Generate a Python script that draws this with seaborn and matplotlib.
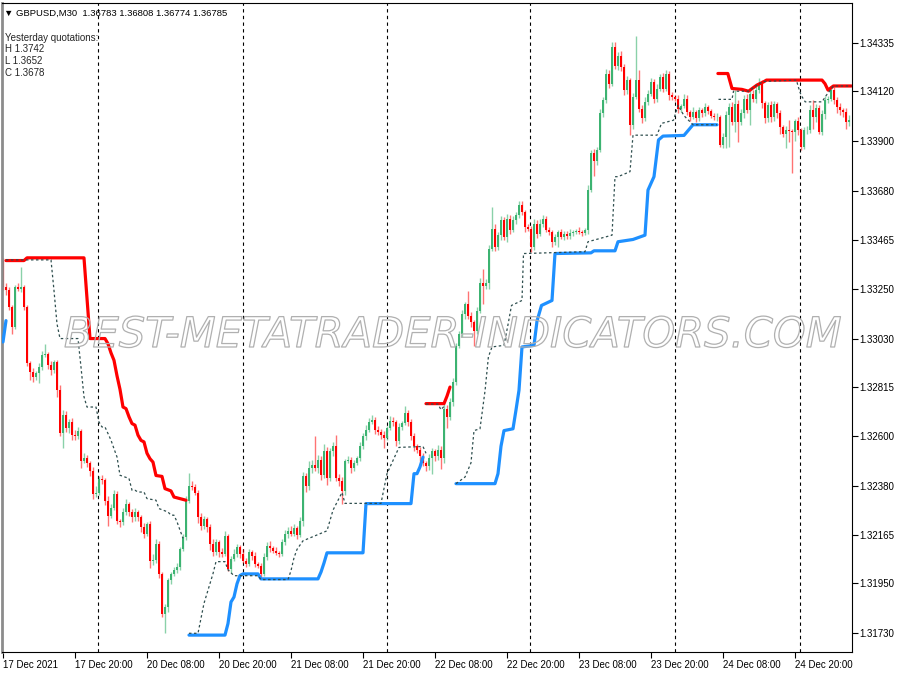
import numpy as np
import matplotlib
matplotlib.use("Agg")
import matplotlib.pyplot as plt
import matplotlib.patheffects as pe
import seaborn as sns

# prices are kept as pips above 1.30000 (GBPUSD, M30 candles)
BASE = 1.30000
first_open = 337.4

closes = [
    # 17 Dec
    325.6, 324.2, 316.9, 308.1, 325.6, 324.9, 325.6, 316.9, 292.0, 288.4,
    286.2, 287.7, 290.5, 295.7, 296.2, 291.2, 289.1, 292.7, 280.3, 261.3,
    269.4, 263.5, 266.4, 260.6, 259.9, 262.1, 248.9, 250.5, 248.2, 244.5,
    234.3, 235.0, 240.9, 240.5, 231.4, 224.8, 228.4, 234.3, 222.6, 221.9,
    226.3, 229.9, 226.3, 224.1, 226.3, 224.1, 219.7, 216.7, 221.1, 205.0,
    205.5, 212.4, 199.2, 181.6, 184.6, 196.3, 199.2, 200.7, 202.1, 210.2,
    215.3, 231.4, 238.0, 237.5,
    235.0, 224.1, 220.4, 223.3, 219.7, 212.4, 208.7, 213.1, 208.7, 208.0,
    216.0, 201.4, 205.8, 208.0, 210.9, 208.0, 205.0, 203.6, 208.7, 207.2,
    203.6, 202.9, 199.2, 206.5, 211.6, 210.5, 209.5, 208.5, 208.0, 213.1,
    216.7, 218.2, 217.0, 219.5, 216.5, 222.5,
    # 21 Dec - 22 Dec
    242.3, 237.9, 245.9, 247.4, 245.9, 249.6, 243.0, 253.3, 241.6, 253.3,
    255.5, 241.6, 240.1, 235.7, 248.9, 249.6, 245.9, 248.1, 250.3, 255.5,
    259.8, 262.8, 266.4, 267.2, 262.8, 262.0, 260.6, 259.1, 263.5, 266.7,
    266.1, 257.7, 264.2, 265.7, 270.1, 266.4, 259.8, 255.5, 254.0, 251.1,
    248.1, 246.7, 250.3, 253.3, 251.1, 254.0, 250.3,
    272.1, 268.5, 275.1, 283.8, 299.9, 305.0, 313.8, 318.2, 313.1, 310.2,
    306.5, 315.3, 327.7, 326.2, 327.7, 342.4,
    351.5, 343.4, 348.6, 355.1, 347.8, 355.9, 350.8, 355.1, 357.3, 361.7,
    358.8, 352.2, 351.5, 343.4, 353.7, 349.3, 353.7, 355.9, 350.8, 350.0,
    345.6, 347.8, 350.0, 347.8, 349.3, 348.1, 349.6, 350.0, 350.5, 350.0,
    349.6, 350.8,
    # 23 Dec - 24 Dec
    368.6, 384.7, 381.1, 386.2, 402.3, 408.1, 419.8, 415.4, 431.5, 423.4,
    427.8, 422.7, 412.5, 416.9, 397.1, 409.6, 416.9, 404.4, 400.1, 407.4,
    411.0, 416.1, 408.8, 413.2, 418.3, 413.2, 419.8, 410.3, 409.6, 408.8,
    404.4, 405.5, 408.8, 403.0, 400.8, 403.0, 400.1, 403.7, 402.3, 405.2,
    403.4, 401.1, 400.5, 400.8,
    388.4, 392.0, 401.5, 405.2, 398.6, 406.6, 398.6, 402.3, 408.8, 404.0,
    411.0, 408.8, 412.8, 415.4, 406.9, 400.1, 405.9, 400.5, 406.3, 402.3,
    396.4, 393.2, 395.2, 394.6, 394.2, 399.0, 394.9, 387.6, 394.9, 395.2,
    404.0, 400.5, 404.9, 394.2, 402.0, 408.4, 408.8, 412.5, 408.4, 405.2,
    403.7, 403.0, 398.6, 399.6,
]

upper_wick = [
    1, 2, 1.5, 1, 1, 2, 8.8, 1, 1, 1, 1.5, 1, 1.5, 2, 4.5, 1, 2, 1, 1, 2,
    2, 1.5, 1, 1.5, 2, 2, 1, 2, 1, 1, 2, 3, 1.5, 2, 1, 2, 1.5, 2, 1.5, 1,
    2, 2.5, 1, 1.5, 2, 1, 1, 2, 1, 1.5, 2.5, 2, 1.5, 1, 1.5, 1, 1, 1.5, 2, 1,
    1.5, 2, 5.8, 2,
    1.5, 1, 2, 1.5, 1, 1.5, 2, 1.5, 1, 2, 2.2, 1, 1.5, 2, 1.5, 1, 2, 1,
    1.5, 1, 1.5, 1, 1, 2, 1.5, 2, 1, 1.5, 1, 1.5, 2, 1.5, 2, 1.5, 1, 2,
    2, 1.5, 3, 2, 12.4, 2, 1.5, 3, 2, 1.5, 2, 5, 1.5, 2, 1, 1.5, 1, 1.5, 1, 2,
    1.5, 2, 1.5, 2, 1, 1.5, 1, 1.5, 1, 2, 1.5, 1, 1.5, 1, 3, 1.5, 1, 1.5, 1, 1,
    1.5, 1, 2, 1.5, 1, 2, 1.5,
    2, 1.5, 1.5, 2, 1, 1.5, 2, 1, 5.8, 1.5, 1, 1.5, 2, 5.8, 1.5, 2,
    9.5, 2, 1.5, 2, 1.5, 2, 1.5, 2, 1.5, 2, 2, 1, 1.5, 1, 2, 1.5, 2, 1.5, 1, 1.5,
    1, 1.5, 1, 1.5, 1, 1, 1.5, 1, 1, 1.5, 1, 1,
    2, 1.5, 2, 1.5, 2, 1.5, 2, 1.5, 2.2, 2.2, 1.5, 2, 1.5, 2, 1, 1.5, 19.7, 4.4, 1.5, 2,
    1.5, 2, 1.5, 2, 1.5, 2, 1.5, 1, 1.5, 1, 1.5, 1, 2, 1.5, 1, 2, 1, 1.5, 1, 1.5,
    1, 1, 1.5, 1.5,
    1, 1.5, 2, 1.5, 2, 5.9, 1.5, 2, 1.5, 2, 2, 1.5, 2, 2.5, 1.5, 1, 1.5, 2, 1.5, 1,
    1.5, 1, 1.5, 4, 1, 1, 1.5, 1, 1.5, 1.5, 2, 4, 1.5, 1, 2, 1.5, 1, 2, 1.5, 1,
    1.5, 1, 1.5, 2,
]

lower_wick = [
    1, 2, 1.5, 3, 1, 1, 1.5, 1.5, 1, 3.7, 2.5, 1.5, 4.5, 1.5, 1, 1.5, 2, 1.5, 3, 1.5,
    6.5, 1.5, 2, 2.5, 1.5, 1, 3, 1, 2, 2, 2, 1, 1, 1.5, 2, 4.4, 1, 1, 1.5, 2,
    1, 1, 1.5, 2, 1.5, 1.5, 2, 1.5, 1, 3, 2, 1.5, 2, 1.5, 8.6, 2, 1.5, 1, 1, 1,
    1, 1, 1, 1.5,
    1, 2.5, 2, 1.5, 2, 2.5, 1.5, 1, 2, 1.5, 1, 1, 2, 1, 1.5, 2, 1, 1.5,
    1, 2, 1.5, 1, 1.5, 1, 1, 1.5, 1, 1, 1.5, 1, 1, 1.5, 1, 1, 2, 1,
    2, 2.5, 1.5, 2, 1.5, 2, 2.5, 1.5, 3, 1.5, 2, 1.5, 2, 5.8, 1.5, 1, 2, 1.5, 1, 1.5,
    1, 1.5, 1, 1, 2, 1.5, 2, 4.4, 1, 1, 1.5, 2, 1, 1.5, 1, 2, 1.5, 2, 1.5, 2,
    1.5, 2, 1.5, 7, 2, 1.5, 5,
    2, 5, 1.5, 2, 1.5, 1, 1.5, 2, 1.5, 2, 6.6, 1.5, 1, 8, 1.5, 3,
    1, 2, 1.5, 2, 1.5, 2, 1.5, 1, 1.5, 1, 1.5, 2, 1, 2.1, 1.5, 2, 1, 1.5, 1, 1.5,
    2, 1.5, 4.3, 1, 1.5, 1, 1, 1.5, 1, 1, 1.5, 1,
    1.5, 1, 6.6, 1.5, 1, 1.5, 1, 2, 1, 1.5, 2, 1.5, 2, 1.5, 4.4, 1.5, 1, 1.5, 2, 1,
    1.5, 1, 2, 1.5, 1, 1.5, 1, 2, 1.5, 1, 2, 1.5, 1, 1.5, 2, 1, 1.5, 1, 1.5, 1,
    1.5, 1, 1, 1.5,
    1, 1.5, 5, 14, 1.5, 4.4, 8.8, 1.5, 2, 1.5, 7, 1.5, 2, 1.5, 2, 2, 1.5, 2, 1.5, 2,
    3, 1.5, 6.3, 5, 18.3, 4, 2, 1.5, 1, 1.5, 1.5, 5, 2, 1, 1.5, 2, 1.5, 1, 2, 2.5,
    2, 2.5, 3, 2,
]

# indicator lines: (bar index, pips) vertices
red_1_x = [1, 7, 8, 27, 28, 29, 34, 35, 36, 37, 38, 39, 40, 41, 42, 43, 44, 45, 46, 47,
           48, 49, 50, 51, 53, 54, 56, 57, 61]
red_1_y = [337.4, 337.4, 338.6, 338.6, 320.8, 303.0, 303.0, 300.7, 296.7, 293.4, 286.6,
           280.6, 272.8, 272.1, 268.5, 265.5, 264.8, 260.4, 258.1, 257.4, 252.4, 250.0,
           248.5, 242.6, 242.2, 236.8, 235.8, 233.1, 231.7]
red_2_x = [141, 147, 148, 149]
red_2_y = [274.3, 274.3, 277.6, 281.6]
red_3_x = [238.3, 241.6, 243, 246.3, 248.5, 251.3, 253.5, 254.5, 273, 274, 275, 276.8, 282.8]
red_3_y = [419.9, 419.9, 413.3, 412.9, 412.1, 414.8, 416.2, 417.0, 417.0, 415.4, 412.6,
           414.4, 414.4]

blue_1_x = [0, 1]
blue_1_y = [301.5, 310.9]
blue_2_x = [62, 74, 75, 76, 77, 78, 79, 80, 85, 86, 105, 106, 107, 108, 120, 121, 136,
            137, 138, 139, 140]
blue_2_y = [172.2, 172.2, 177.3, 186.8, 189, 194.8, 198.5, 199.2, 199.2, 197, 197, 200,
            204, 208.5, 208.5, 230.2, 230.2, 243.4, 243.4, 246.4, 250.7]
blue_3_x = [151, 164, 165, 166, 167, 170, 171, 172, 173, 177, 178, 179.5, 183, 184, 196,
            197, 204, 205, 210, 214, 215, 217, 218.5, 220, 227, 230, 238]
blue_3_y = [239.0, 239.0, 243.4, 255.5, 262.4, 263.2, 271.5, 280.2, 299.3, 300.0, 310.7,
            317.6, 319.8, 340.5, 340.8, 341.7, 341.7, 345.7, 346.7, 348.6, 368.5, 374.4,
            390.6, 392.3, 392.6, 397.3, 397.3]

mid_1_x = [1, 16, 17, 18, 19, 25, 26, 27, 28, 31, 32, 33, 34, 35, 36, 37, 38, 39, 42,
           43, 44, 45, 47, 48, 51, 52, 55, 56, 57, 58, 59, 60]
mid_1_y = [337.7, 337.7, 324.2, 309.5, 303.0, 303.0, 290.4, 277.3, 272.8, 272.8, 266.2,
           264.0, 264.0, 261.1, 258.2, 254.4, 250.8, 242.7, 241.3, 236.1, 236.1, 235.3,
           235.3, 232.4, 231.7, 228.0, 226.5, 225.1, 225.1, 222.2, 218.5, 214.9]
mid_2_x = [62, 65, 67, 70, 71, 74, 75, 77, 85, 86, 95, 96, 97, 98, 100, 108, 110, 113,
           114, 126, 128, 132, 140, 141]
mid_2_y = [173, 173, 186.2, 199.3, 204.6, 204.6, 201, 198.4, 198.4, 196.7, 196.7, 200.6,
           206.3, 210, 213.8, 218.2, 227.3, 235.1, 230.3, 230.3, 243.4, 255.0, 255.4, 252.4]
mid_3_x = [141, 145, 146, 147]
mid_3_y = [274.1, 274.1, 271.6, 273.1]
mid_4_x = [151, 154, 156, 157, 159, 160.7, 161.8, 163, 167, 168.4, 169.5, 173, 173.5,
           194, 195, 203, 204, 205, 209, 210, 218, 219.5, 223.5, 225, 227, 230, 238]
mid_4_y = [239.0, 241.9, 248.2, 262.4, 263.2, 280.2, 294.9, 299.3, 300.0, 309.6, 317.6,
           319.8, 340.5, 341.3, 345.7, 348.6, 374.4, 374.4, 376.6, 392.7, 392.7, 397.9,
           399.3, 405.9, 401.3, 397.3, 397.3]
mid_5_x = [238.5, 243, 243.5, 248.5, 251.3, 253.5, 264.5, 265, 266, 267.4, 273, 274.5,
           276.8, 282.8]
mid_5_y = [408.5, 408.5, 412.1, 412.1, 414.8, 416.4, 417.0, 414.4, 410.4, 407.4, 407.4,
           410.4, 414.4, 414.4]

tick_bars = [0, 24, 48, 72, 96, 120, 144, 168, 192, 216, 240, 264]
tick_labels = ["17 Dec 2021", "17 Dec 20:00", "20 Dec 08:00", "20 Dec 20:00",
               "21 Dec 08:00", "21 Dec 20:00", "22 Dec 08:00", "22 Dec 20:00",
               "23 Dec 08:00", "23 Dec 20:00", "24 Dec 08:00", "24 Dec 20:00"]
separator_bars = [31.7, 80, 128, 175.7, 224, 265.7]
price_ticks = [1.34335, 1.34120, 1.33900, 1.33680, 1.33465, 1.33250, 1.33030,
               1.32815, 1.32600, 1.32380, 1.32165, 1.31950, 1.31730]


def px(p):
    return BASE + np.asarray(p, dtype=float) / 10000


sns.set_style("ticks")
plt.rcParams['font.family'] = ['Liberation Sans', 'DejaVu Sans']

fig = plt.figure(figsize=(9, 6.75), dpi=100)
ax = fig.add_axes([2 / 900, 23 / 675, 850 / 900, 649 / 675])

# ---------------- candles ----------------
c = np.array(closes)
o = np.r_[first_open, c[:-1]]
hi = np.maximum(o, c) + np.array(upper_wick)
lo = np.minimum(o, c) - np.array(lower_wick)
x = np.arange(len(c))
up = (c - o) > 0.25
dn = (o - c) > 0.25
flat = ~(up | dn)

GREEN = '#3cb371'
RED = '#ff0000'
ax.vlines(x[up], px(lo[up]), px(hi[up]), color=GREEN, alpha=0.6, lw=1.0, zorder=2)
ax.vlines(x[dn], px(lo[dn]), px(hi[dn]), color=RED, alpha=0.55, lw=1.0, zorder=2)
ax.vlines(x[flat], px(lo[flat]), px(hi[flat]), color='black', lw=1.0, zorder=2)
ax.bar(x[up], (c - o)[up] / 10000, bottom=px(o[up]), width=0.68, color=GREEN,
       linewidth=0, zorder=2)
ax.bar(x[dn], (o - c)[dn] / 10000, bottom=px(c[dn]), width=0.68, color=RED,
       linewidth=0, zorder=2)
ax.hlines(px(c[flat]), x[flat] - 0.5, x[flat] + 0.5, color='black', lw=1.0, zorder=2)

# ---------------- day separators ----------------
for b in separator_bars:
    ax.axvline(b, color='black', lw=0.8, ls=(0, (3, 3)), zorder=1)

# ---------------- trailing lines ----------------
for xs, ys in [(red_1_x, red_1_y), (red_2_x, red_2_y), (red_3_x, red_3_y)]:
    sns.lineplot(x=xs, y=px(ys), ax=ax, color=RED, lw=2.3, sort=False,
                 estimator=None, solid_capstyle='round', zorder=3, legend=False)
for xs, ys in [(blue_1_x, blue_1_y), (blue_2_x, blue_2_y), (blue_3_x, blue_3_y)]:
    sns.lineplot(x=xs, y=px(ys), ax=ax, color='#1e90ff', lw=2.3, sort=False,
                 estimator=None, solid_capstyle='round', zorder=3, legend=False)
for xs, ys in [(mid_1_x, mid_1_y), (mid_2_x, mid_2_y), (mid_3_x, mid_3_y),
               (mid_4_x, mid_4_y), (mid_5_x, mid_5_y)]:
    sns.lineplot(x=xs, y=px(ys), ax=ax, color='#2f4f4f', lw=0.9, sort=False,
                 estimator=None, linestyle=(0, (2, 2)), zorder=4, legend=False)

# ---------------- axes ----------------
ax.set_xlim(-0.33, 283.0)
ax.set_ylim(px(164.75), px(451.0))
ax.set_xlabel('')
ax.set_ylabel('')
ax.set_xticks(tick_bars)
ax.set_xticklabels(tick_labels)
for lbl in ax.get_xticklabels():
    lbl.set_horizontalalignment('left')
ax.yaxis.tick_right()
ax.set_yticks(price_ticks)
ax.set_yticklabels([f"{v:.5f}" for v in price_ticks])
ax.tick_params(axis='x', direction='out', length=4, width=0.8, pad=2, labelsize=7,
               colors='black')
ax.tick_params(axis='y', direction='out', length=4, width=0.8, pad=1.5, labelsize=7,
               left=False, right=True, labelleft=False, labelright=True, colors='black')
for side in ['top', 'right', 'bottom']:
    ax.spines[side].set_visible(True)
    ax.spines[side].set_color('black')
    ax.spines[side].set_linewidth(0.8)
ax.spines['left'].set_visible(True)
ax.spines['left'].set_color('#8c8c8c')
ax.spines['left'].set_linewidth(2.0)

# ---------------- chart texts ----------------
fig.text(4 / 900, 1 - 13 / 675, "\u25bc GBPUSD,M30  1.36783 1.36808 1.36774 1.36785",
         fontsize=6.8, va='center', ha='left', color='black')
fig.text(5 / 900, 1 - 38 / 675, "Yesterday quotations:", fontsize=7, va='center')
fig.text(5 / 900, 1 - 49.5 / 675, "H 1.3742", fontsize=7, va='center')
fig.text(5 / 900, 1 - 61 / 675, "L 1.3652", fontsize=7, va='center')
fig.text(5 / 900, 1 - 72.5 / 675, "C 1.3678", fontsize=7, va='center')

fig.text(452 / 900, 1 - 335 / 675, "BEST-METATRADER-INDICATORS.COM", fontsize=30,
         family='DejaVu Sans', style='italic', ha='center', va='center', color='none',
         path_effects=[pe.Stroke(linewidth=0.9, foreground='#b0b0b0')], zorder=10)

fig.savefig("out.png", dpi=100)
